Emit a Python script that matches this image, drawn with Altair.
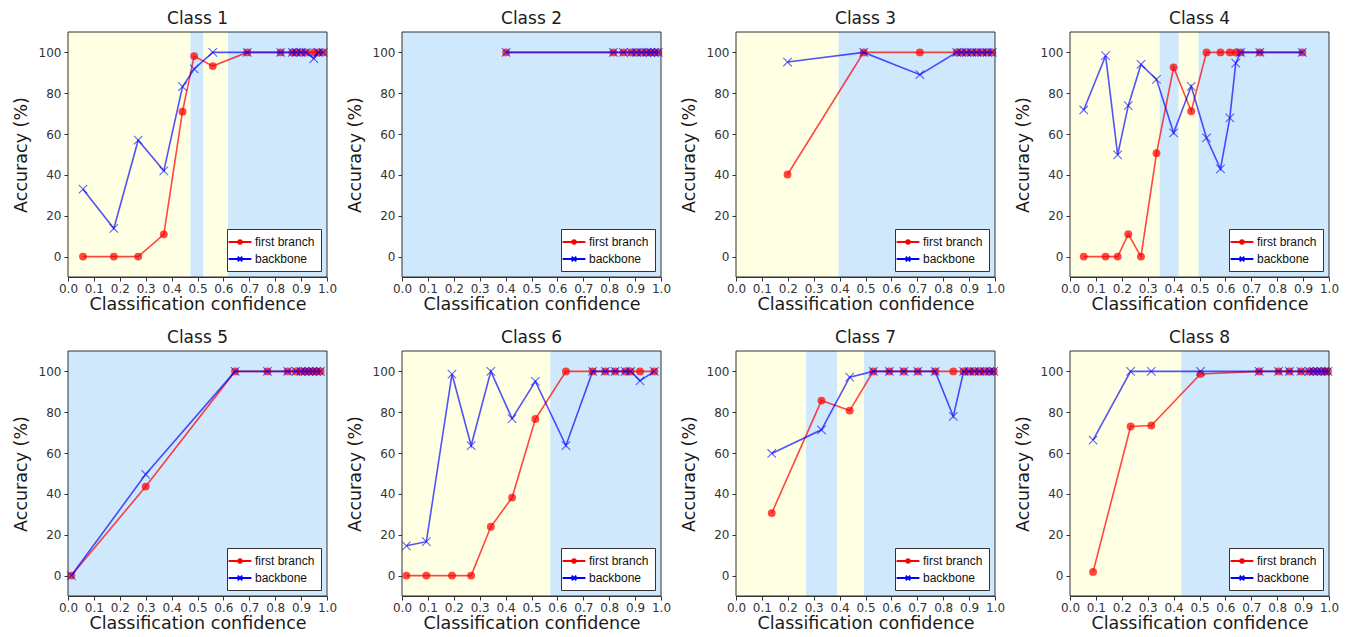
import altair as alt
import pandas as pd

SERIES = ["first branch", "backbone"]
TITLES = ["Class 1", "Class 2", "Class 3", "Class 4", "Class 5", "Class 6", "Class 7", "Class 8"]
X_TICKS = [0.0, 0.1, 0.2, 0.3, 0.4, 0.5, 0.6, 0.7, 0.8, 0.9, 1.0]
Y_TICKS = [0, 20, 40, 60, 80, 100]

# ---- Class 1
c1_x = [0.058, 0.177, 0.271, 0.37, 0.442, 0.487, 0.559, 0.692, 0.821, 0.866, 0.881, 0.899, 0.92, 0.949, 0.966, 0.985]
c1_first = [0, 0, 0, 10.9, 71, 98.2, 93.3, 100, 100, 100, 100, 100, 100, 100, 100, 100]
c1_backbone = [33, 13.8, 57, 42, 83.2, 91.9, 100, 100, 100, 100, 100, 100, 100, 97, 100, 100]
c1_bounds = [0.0, 0.473, 0.523, 0.618, 1.0]
c1_zones = ["low", "high", "low", "high"]

# ---- Class 2
c2_x = [0.402, 0.816, 0.855, 0.885, 0.905, 0.925, 0.945, 0.96, 0.975, 0.99]
c2_first = [100, 100, 100, 100, 100, 100, 100, 100, 100, 100]
c2_backbone = [100, 100, 100, 100, 100, 100, 100, 100, 100, 100]
c2_bounds = [0.0, 1.0]
c2_zones = ["high"]

# ---- Class 3
c3_x = [0.199, 0.493, 0.71, 0.852, 0.87, 0.89, 0.91, 0.93, 0.95, 0.97, 0.99]
c3_first = [40.2, 100, 100, 100, 100, 100, 100, 100, 100, 100, 100]
c3_backbone = [95.3, 100, 89.1, 100, 100, 100, 100, 100, 100, 100, 100]
c3_bounds = [0.0, 0.396, 1.0]
c3_zones = ["low", "high"]

# ---- Class 4
c4_x = [0.053, 0.1375, 0.184, 0.225, 0.274, 0.334, 0.40, 0.468, 0.527, 0.581, 0.617, 0.64, 0.659, 0.733, 0.897]
c4_first = [0, 0, 0, 11, 0, 50.6, 92.7, 71.2, 100, 100, 100, 100, 100, 100, 100]
c4_backbone = [71.8, 98.4, 49.8, 73.9, 94.1, 86.8, 60.6, 83.4, 58.1, 43, 67.9, 94.8, 100, 100, 100]
c4_bounds = [0.0, 0.346, 0.42, 0.496, 1.0]
c4_zones = ["low", "high", "low", "high"]

# ---- Class 5
c5_x = [0.013, 0.3, 0.645, 0.77, 0.848, 0.88, 0.9, 0.915, 0.93, 0.945, 0.96, 0.975]
c5_first = [0, 43.6, 100, 100, 100, 100, 100, 100, 100, 100, 100, 100]
c5_backbone = [0, 49.6, 100, 100, 100, 100, 100, 100, 100, 100, 100, 100]
c5_bounds = [0.0, 1.0]
c5_zones = ["high"]

# ---- Class 6
c6_x = [0.017, 0.094, 0.193, 0.267, 0.343, 0.425, 0.515, 0.633, 0.736, 0.785, 0.823, 0.862, 0.883, 0.919, 0.974]
c6_first = [0, 0, 0, 0, 23.9, 38.2, 76.7, 100, 100, 100, 100, 100, 100, 100, 100]
c6_backbone = [14.6, 16.6, 98.7, 63.7, 100, 76.9, 95.1, 63.7, 100, 100, 100, 100, 100, 95.4, 100]
c6_bounds = [0.0, 0.573, 1.0]
c6_zones = ["low", "high"]

# ---- Class 7
c7_x = [0.138, 0.33, 0.439, 0.53, 0.592, 0.648, 0.702, 0.769, 0.839, 0.879, 0.9, 0.92, 0.94, 0.96, 0.98, 0.995]
c7_first = [30.6, 85.7, 80.8, 100, 100, 100, 100, 100, 100, 100, 100, 100, 100, 100, 100, 100]
c7_backbone = [59.8, 71.4, 97.2, 100, 100, 100, 100, 100, 78, 100, 100, 100, 100, 100, 100, 100]
c7_bounds = [0.0, 0.27, 0.39, 0.494, 1.0]
c7_zones = ["low", "high", "low", "high"]

# ---- Class 8
c8_x = [0.089, 0.234, 0.314, 0.504, 0.73, 0.805, 0.847, 0.892, 0.923, 0.94, 0.955, 0.97, 0.985, 0.996]
c8_first = [1.8, 73, 73.5, 98.7, 100, 100, 100, 100, 100, 100, 100, 100, 100, 100]
c8_backbone = [66.3, 100, 100, 100, 100, 100, 100, 100, 100, 100, 100, 100, 100, 100]
c8_bounds = [0.0, 0.43, 1.0]
c8_zones = ["low", "high"]

CLASS_DATA = [
    (c1_x, c1_first, c1_backbone, c1_bounds, c1_zones),
    (c2_x, c2_first, c2_backbone, c2_bounds, c2_zones),
    (c3_x, c3_first, c3_backbone, c3_bounds, c3_zones),
    (c4_x, c4_first, c4_backbone, c4_bounds, c4_zones),
    (c5_x, c5_first, c5_backbone, c5_bounds, c5_zones),
    (c6_x, c6_first, c6_backbone, c6_bounds, c6_zones),
    (c7_x, c7_first, c7_backbone, c7_bounds, c7_zones),
    (c8_x, c8_first, c8_backbone, c8_bounds, c8_zones),
]

RED = "#ff0000"
BLUE = "#0000ff"
YELLOW_BG = "#ffffe3"
BLUE_BG = "#cfe8fb"

DOT_PATH = "M-1.9,0H1.9M-0.3,0A0.3,0.3,0,1,0,0.3,0A0.3,0.3,0,1,0,-0.3,0"
XLEG_PATH = "M-1.9,0H1.9M-0.38,-0.38L0.38,0.38M-0.38,0.38L0.38,-0.38"
X_MARK = "M-1,-1L1,1M-1,1L1,-1"

W, H = 259, 245

xscale = alt.Scale(domain=[0, 1], nice=False, zero=False)
yscale = alt.Scale(domain=[-10, 110], nice=False, zero=False)
xaxis = alt.Axis(values=X_TICKS, format=".1f", title="Classification confidence",
                 labelFlush=False, labelOverlap=False)
yaxis = alt.Axis(values=Y_TICKS, format="d", title="Accuracy (%)", labelOverlap=False)


def panel(title, xs, first, backbone, bounds, zones):
    rows = []
    for xv, yv in zip(xs, first):
        rows.append({"conf": xv, "acc": yv, "series": "first branch"})
    for xv, yv in zip(xs, backbone):
        rows.append({"conf": xv, "acc": yv, "series": "backbone"})
    df = pd.DataFrame(rows)
    reg = pd.DataFrame({"start": bounds[:-1], "end": bounds[1:], "zone": zones})

    bg = alt.Chart(reg).mark_rect(strokeWidth=0).encode(
        x=alt.X("start:Q", scale=xscale, axis=xaxis),
        x2="end:Q",
        y=alt.Y(datum=-10, scale=yscale, axis=yaxis),
        y2=alt.Y2(datum=110),
        fill=alt.Fill("zone:N", scale=alt.Scale(domain=["low", "high"], range=[YELLOW_BG, BLUE_BG]), legend=None),
    )

    base = alt.Chart(df)
    enc = dict(x=alt.X("conf:Q", scale=xscale, axis=xaxis), y=alt.Y("acc:Q", scale=yscale, axis=yaxis))

    red_line = base.transform_filter(alt.datum.series == "first branch").mark_line(
        color=RED, opacity=0.72, strokeWidth=1.6).encode(**enc)
    red_pts = base.transform_filter(alt.datum.series == "first branch").mark_circle(
        color=RED, opacity=0.72, size=62).encode(**enc)
    blue_line = base.transform_filter(alt.datum.series == "backbone").mark_line(
        color=BLUE, opacity=0.68, strokeWidth=1.6).encode(**enc)
    blue_pts = base.transform_filter(alt.datum.series == "backbone").mark_point(
        shape=X_MARK, color=BLUE, opacity=0.6, size=72, strokeWidth=1.1, filled=False).encode(**enc)

    frame = alt.Chart(reg).transform_filter("datum.start == 0").mark_rect(
        fill=None, stroke="#333333", strokeWidth=1).encode(
        x=alt.X(datum=0, scale=xscale, axis=xaxis), x2=alt.X2(datum=1),
        y=alt.Y(datum=-10, scale=yscale, axis=yaxis), y2=alt.Y2(datum=110))

    leg_props = dict(title=None, orient="bottom-right", offset=6, fillColor="white",
                     strokeColor="#333333", padding=6, labelFont="Liberation Sans",
                     labelFontSize=12, labelColor="#111111", symbolSize=144,
                     symbolStrokeWidth=1.8, rowPadding=4, labelOffset=8,
                     symbolOpacity=1, cornerRadius=0)
    legend_layer = base.transform_filter("false").mark_point(filled=False).encode(
        x=alt.X("conf:Q", scale=xscale, axis=xaxis),
        y=alt.Y("acc:Q", scale=yscale, axis=yaxis),
        color=alt.Color("series:N", scale=alt.Scale(domain=SERIES, range=[RED, BLUE]),
                        legend=alt.Legend(**leg_props)),
        shape=alt.Shape("series:N", scale=alt.Scale(domain=SERIES, range=[DOT_PATH, XLEG_PATH]),
                        legend=alt.Legend(**leg_props)),
    )

    return alt.layer(bg, red_line, red_pts, blue_line, blue_pts, frame, legend_layer).properties(
        title=title, width=W, height=H)


panels = [panel(t, *d) for t, d in zip(TITLES, CLASS_DATA)]

chart = alt.concat(*panels, columns=4, spacing={"row": 74, "column": 75}, bounds="flush").resolve_scale(
    color="independent", shape="independent", fill="independent"
).resolve_legend(
    color="independent", shape="independent"
).properties(
    padding={"left": 12, "top": 9, "right": 5, "bottom": 2}
).configure_view(stroke=None).configure_axis(
    labelFont="DejaVu Sans", labelFontSize=12, labelColor="#333333",
    titleFont="DejaVu Sans", titleFontSize=17.5, titleFontWeight="normal", titleColor="#1a1a1a",
    tickColor="#333333", tickSize=4, domainColor="#333333", grid=False, zindex=1,
).configure_axisY(minExtent=30, maxExtent=30, titlePadding=8, labelPadding=3).configure_axisX(
    labelPadding=2, titlePadding=1
).configure_title(font="DejaVu Sans", fontSize=17, fontWeight="normal", color="#1a1a1a", offset=4)

chart.save("out.html", embed_options={"renderer": "svg", "actions": False})
